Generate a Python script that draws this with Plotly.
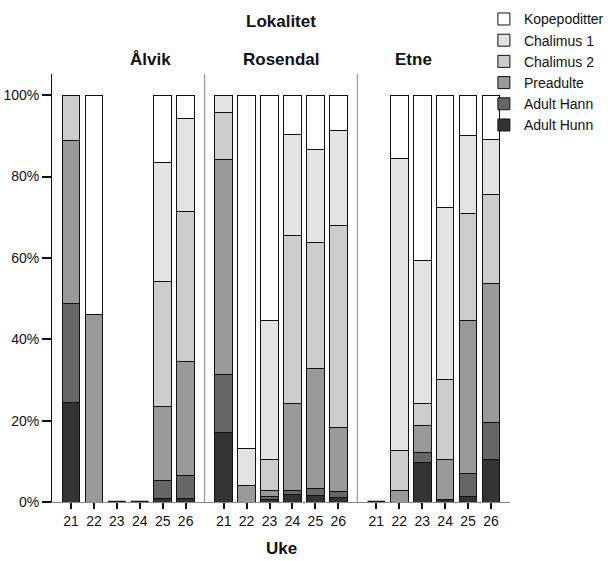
import plotly.graph_objects as go

# Weeks (x categories) and sampling sites
weeks = ["21", "22", "23", "24", "25", "26"]
sites = ["Ålvik", "Rosendal", "Etne"]

# Stage names, bottom of stack first
stages = ["Adult Hunn", "Adult Hann", "Preadulte", "Chalimus 2", "Chalimus 1", "Kopepoditter"]
stage_colors = ["#333333", "#666666", "#999999", "#cccccc", "#e3e3e3", "#ffffff"]

# Percent of lice in each stage, per week (21..26)
alvik_hunn = [24.4, 0, 0, 0, 0.8, 0.8]
alvik_hann = [24.5, 0, 0, 0, 4.5, 5.8]
alvik_pre = [39.9, 46.2, 0, 0, 18.1, 28.0]
alvik_chal2 = [11.2, 0, 0, 0, 30.9, 36.9]
alvik_chal1 = [0, 0, 0, 0, 29.1, 22.8]
alvik_kope = [0, 53.8, 0, 0, 16.6, 5.7]

rosendal_hunn = [17.2, 0, 0.7, 1.8, 1.6, 1.2]
rosendal_hann = [14.2, 0, 0.7, 1.1, 1.7, 1.3]
rosendal_pre = [52.9, 4.1, 1.5, 21.3, 29.5, 15.9]
rosendal_chal2 = [11.4, 0, 7.6, 41.4, 31.1, 49.6]
rosendal_chal1 = [4.3, 9.0, 34.2, 24.7, 22.8, 23.2]
rosendal_kope = [0, 86.9, 55.3, 9.7, 13.3, 8.8]

etne_hunn = [0, 0, 9.7, 0.6, 1.4, 10.5]
etne_hann = [0, 0, 2.4, 0, 5.6, 9.0]
etne_pre = [0, 2.9, 6.8, 9.9, 37.6, 34.3]
etne_chal2 = [0, 9.8, 5.4, 19.6, 26.3, 21.9]
etne_chal1 = [0, 71.7, 35.1, 42.4, 19.2, 13.3]
etne_kope = [0, 15.6, 40.6, 27.5, 9.9, 11.0]

# Y axis ticks
pct_ticks = [0, 20, 40, 60, 80, 100]
pct_labels = ["0%", "20%", "40%", "60%", "80%", "100%"]

site_data = [
    [alvik_hunn, alvik_hann, alvik_pre, alvik_chal2, alvik_chal1, alvik_kope],
    [rosendal_hunn, rosendal_hann, rosendal_pre, rosendal_chal2, rosendal_chal1, rosendal_kope],
    [etne_hunn, etne_hann, etne_pre, etne_chal2, etne_chal1, etne_kope],
]

FONT = "Arial, Liberation Sans, sans-serif"
BAR_W = 0.77
xpos = list(range(len(weeks)))
axis_ids = ["x", "x2", "x3"]

fig = go.Figure()

for s, (site, series) in enumerate(zip(sites, site_data)):
    for k, (stage, vals) in enumerate(zip(stages, series)):
        fig.add_trace(go.Bar(
            x=xpos, y=vals, name=stage, width=BAR_W,
            marker=dict(color=stage_colors[k], line=dict(color="#111111", width=1)),
            xaxis=axis_ids[s], yaxis="y",
            showlegend=(s == 0), legendrank=100 - k,
            hovertemplate=site + " uke %{x}: %{y:.1f}%<extra>" + stage + "</extra>",
        ))
    # weeks with no lice: outline collapsed onto the baseline
    totals = [sum(v[i] for v in series) for i in xpos]
    zx, zy = [], []
    for i, t in zip(xpos, totals):
        if t == 0:
            zx += [i - BAR_W / 2, i + BAR_W / 2, None]
            zy += [0, 0, None]
    if zx:
        fig.add_trace(go.Scatter(
            x=zx, y=zy, mode="lines", line=dict(color="#111111", width=2.5),
            xaxis=axis_ids[s], yaxis="y", showlegend=False, hoverinfo="skip",
            cliponaxis=False,
        ))

xaxis_common = dict(
    range=[-0.83, 5.83], tickvals=xpos, ticktext=weeks,
    showline=True, linecolor="#888888", linewidth=1,
    ticks="outside", ticklen=6, tickcolor="#111111", tickwidth=1.5,
    showgrid=False, zeroline=False, fixedrange=True,
    tickfont=dict(family=FONT, size=14, color="#111111"),
    anchor="y",
)

layout = dict(
    width=608, height=561,
    margin=dict(l=52, r=98, t=74, b=59, autoexpand=False),
    plot_bgcolor="white", paper_bgcolor="white",
    barmode="stack",
    font=dict(family=FONT, color="#111111"),
    yaxis=dict(
        range=[0, 105.2], tickvals=pct_ticks, ticktext=pct_labels,
        showline=True, linecolor="#111111", linewidth=1,
        ticks="outside", ticklen=9, tickcolor="#111111", tickwidth=1.5,
        showgrid=False, zeroline=False,
        tickfont=dict(family=FONT, size=14, color="#111111"),
    ),
    legend=dict(
        x=0.943, xanchor="left", y=1.165, yanchor="top",
        traceorder="normal",
        font=dict(family=FONT, size=14, color="#111111"),
        bgcolor="rgba(0,0,0,0)", itemclick=False, itemdoubleclick=False,
    ),
    showlegend=True,
)
domains = [[0, 1 / 3], [1 / 3, 2 / 3], [2 / 3, 1]]
for j, ax in enumerate(["xaxis", "xaxis2", "xaxis3"]):
    layout[ax] = dict(xaxis_common, domain=domains[j])
fig.update_layout(**layout)

# Separators between the site panels
for xp in [1 / 3, 2 / 3]:
    fig.add_shape(type="line", xref="paper", yref="paper", x0=xp, x1=xp, y0=0, y1=1,
                  line=dict(color="#888888", width=1))

# Titles
fig.add_annotation(text="<b>Lokalitet</b>", xref="paper", yref="paper", x=0.5, y=1.1215,
                   showarrow=False, yanchor="middle", font=dict(family=FONT, size=17))
for j, site in enumerate(sites):
    fig.add_annotation(text="<b>" + site + "</b>", xref="paper", yref="paper",
                       x=(domains[j][0] + domains[j][1]) / 2, y=1.035,
                       showarrow=False, yanchor="middle", font=dict(family=FONT, size=17))
fig.add_annotation(text="<b>Uke</b>", xref="paper", yref="paper", x=0.5, y=-0.1075,
                   showarrow=False, yanchor="middle", font=dict(family=FONT, size=17))

fig.write_html("out.html")
